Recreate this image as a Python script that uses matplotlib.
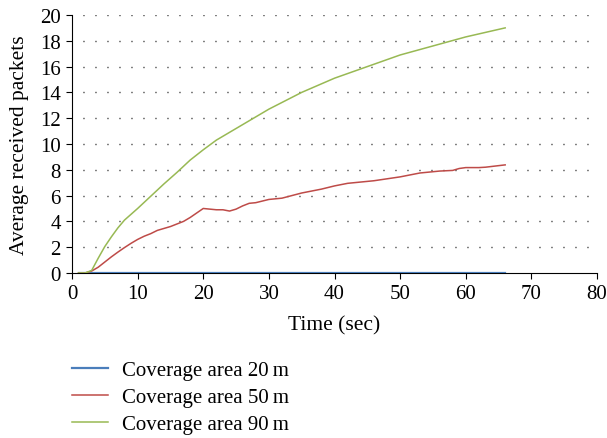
import matplotlib.pyplot as plt
import numpy as np

plt.rcParams['font.family'] = ['Liberation Serif', 'DejaVu Serif']

# time axis (sec)
time_20 = [1, 66]
pkts_20 = [0, 0]

time_50 = [1, 2, 3, 4, 5, 6, 7, 8, 9, 10, 11, 12, 13, 15, 17, 18, 20, 22, 23, 24, 25, 26, 27,
           28, 30, 32, 35, 38, 40, 42, 46, 50, 53, 56, 58, 59, 60, 62, 63, 66]
pkts_50 = [0, 0, 0.15, 0.45, 0.85, 1.25, 1.62, 1.97, 2.3, 2.6, 2.85, 3.05, 3.3, 3.6, 4.0, 4.3, 5.0, 4.9, 4.9, 4.8, 4.95, 5.2, 5.4,
           5.45, 5.7, 5.8, 6.2, 6.5, 6.75, 6.95, 7.15, 7.45, 7.75, 7.9, 7.95, 8.1, 8.17, 8.17, 8.2, 8.38]

time_90 = [1, 2, 3, 4, 5, 6, 7, 8, 10, 12, 14, 16, 18, 20, 22, 25, 28, 30, 35, 40, 45,
           50, 55, 60, 66]
pkts_90 = [0, 0, 0.2, 1.15, 2.05, 2.8, 3.5, 4.1, 5.0, 5.95, 6.9, 7.8, 8.75, 9.55, 10.3, 11.2, 12.1, 12.7, 14.0, 15.1, 16.0,
           16.9, 17.6, 18.3, 19.0]

labels = ['Coverage area 20\u2009m', 'Coverage area 50\u2009m', 'Coverage area 90\u2009m']
colors = ['#4a7ebb', '#be4b48', '#98b954']

fig = plt.figure(figsize=(6.07, 4.39), dpi=100)
ax = fig.add_axes([0.1186, 0.3759, 0.865, 0.5877])

# dotted horizontal guides, one dot every ~12 px
for yv in range(2, 21, 2):
    ax.plot([1.7, 79.5], [yv, yv], color='black', lw=1.0, ls=(0, (0.7, 7.94)), zorder=1)

ax.plot(time_20, pkts_20, color=colors[0], lw=1.6, label=labels[0], zorder=3)
ax.plot(time_50, pkts_50, color=colors[1], lw=1.1, label=labels[1], zorder=3)
ax.plot(time_90, pkts_90, color=colors[2], lw=1.1, label=labels[2], zorder=3)

ax.set_xlim(0, 80)
ax.set_ylim(0, 20)
ax.set_xticks(np.arange(0, 81, 10))
ax.set_yticks(np.arange(0, 21, 2))
ax.spines['top'].set_visible(False)
ax.spines['right'].set_visible(False)
ax.spines['bottom'].set_zorder(2)
ax.tick_params(direction='out', length=4, width=0.8, labelsize=15, pad=4)
ax.set_xlabel('Time (sec)', fontsize=15.5, labelpad=9)
ax.set_ylabel('Average received packets', fontsize=15.5, labelpad=8)

ax.legend(loc='upper left', bbox_to_anchor=(0.0, -0.34), frameon=False, fontsize=15,
          handlelength=1.75, handletextpad=0.65, labelspacing=0.36, borderaxespad=0,
          borderpad=0, handleheight=0.7)

fig.savefig('out.png', dpi=100)
